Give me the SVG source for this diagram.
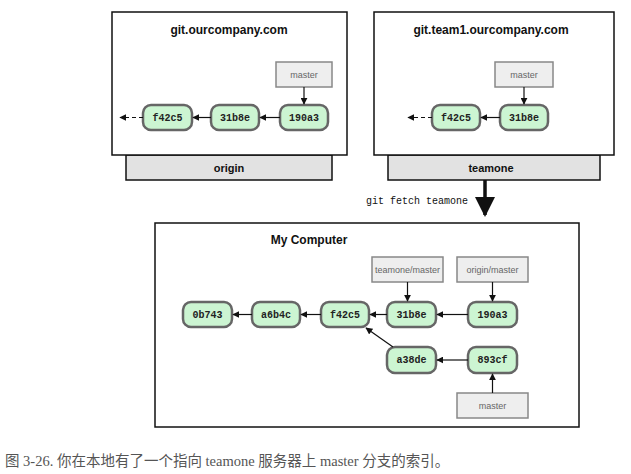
<svg xmlns="http://www.w3.org/2000/svg" width="631" height="474" viewBox="0 0 631 474">
<style>
.srv{fill:#fff;stroke:#111;stroke-width:1.5}
.tab{fill:#e2e2e2;stroke:#111;stroke-width:1.5}
.title{font-family:"Liberation Sans",Arial,sans-serif;font-weight:bold;font-size:12px;fill:#111;text-anchor:middle}
.commit rect{fill:#ccf5d2;stroke:#666;stroke-width:2.5}
.commit text{font-family:"Liberation Mono","DejaVu Sans Mono",monospace;font-weight:bold;font-size:10px;fill:#222;text-anchor:middle}
.ref rect{fill:#eeeeee;stroke:#888;stroke-width:1.5}
.ref text{font-family:"Liberation Sans",Arial,sans-serif;font-size:9px;fill:#666;text-anchor:middle}
.edge{stroke:#111;stroke-width:1.2;fill:none;marker-end:url(#ah)}
.dash{stroke:#111;stroke-width:1.2;fill:none;stroke-dasharray:4 3;marker-end:url(#ah)}
</style>
<defs>
<marker id="ah" viewBox="0 0 10 10" refX="9" refY="5" markerWidth="7" markerHeight="7" markerUnits="userSpaceOnUse" orient="auto"><path d="M0,0 L10,5 L0,10 z" fill="#111"/></marker>
<marker id="big" viewBox="0 0 10 10" refX="9" refY="5" markerWidth="20" markerHeight="20" markerUnits="userSpaceOnUse" orient="auto"><path d="M0,0 L10,5 L0,10 z" fill="#111"/></marker>
</defs>

<g id="origin-server">
<rect class="tab" x="126" y="155" width="206" height="25"/>
<rect class="srv" x="112" y="12" width="235" height="143"/>
<text class="title" x="229" y="34">git.ourcompany.com</text>
<text class="title" x="229" y="172" style="font-size:11px">origin</text>
</g>
<g id="teamone-server">
<rect class="tab" x="388" y="155" width="212" height="25"/>
<rect class="srv" x="374" y="12" width="240" height="143"/>
<text class="title" x="491" y="34">git.team1.ourcompany.com</text>
<text class="title" x="491" y="172" style="font-size:11px">teamone</text>
</g>
<g id="my-computer">
<rect class="srv" x="155" y="223" width="424" height="204"/>
<text class="title" x="309" y="244">My Computer</text>
</g>

<g id="o-master" class="ref"><rect x="276" y="62" width="56" height="25"/><text x="304" y="78">master</text></g>
<g id="o-190a3" class="commit"><rect x="280" y="105" width="48" height="25" rx="8"/><text x="304" y="121">190a3</text></g>
<g id="o-31b8e" class="commit"><rect x="211" y="105" width="48" height="25" rx="8"/><text x="235" y="121">31b8e</text></g>
<g id="o-f42c5" class="commit"><rect x="143" y="105" width="49" height="25" rx="8"/><text x="167.5" y="121">f42c5</text></g>

<g id="t-master" class="ref"><rect x="495" y="62" width="58" height="25"/><text x="524" y="78">master</text></g>
<g id="t-31b8e" class="commit"><rect x="500" y="105" width="48" height="25" rx="8"/><text x="524" y="121">31b8e</text></g>
<g id="t-f42c5" class="commit"><rect x="432" y="105" width="48" height="25" rx="8"/><text x="456" y="121">f42c5</text></g>

<g id="m-teamone-master" class="ref"><rect x="372" y="257" width="71" height="25"/><text x="407.5" y="273">teamone/master</text></g>
<g id="m-origin-master" class="ref"><rect x="457" y="257" width="71" height="25"/><text x="492.5" y="273">origin/master</text></g>
<g id="m-0b743" class="commit"><rect x="183" y="302" width="49" height="25" rx="8"/><text x="207.5" y="318">0b743</text></g>
<g id="m-a6b4c" class="commit"><rect x="252" y="302" width="48" height="25" rx="8"/><text x="276" y="318">a6b4c</text></g>
<g id="m-f42c5" class="commit"><rect x="321" y="302" width="48" height="25" rx="8"/><text x="345" y="318">f42c5</text></g>
<g id="m-31b8e" class="commit"><rect x="387" y="302" width="49" height="25" rx="8"/><text x="411.5" y="318">31b8e</text></g>
<g id="m-190a3" class="commit"><rect x="468" y="302" width="49" height="25" rx="8"/><text x="492.5" y="318">190a3</text></g>
<g id="m-a38de" class="commit"><rect x="387" y="347" width="49" height="26" rx="8"/><text x="411.5" y="363">a38de</text></g>
<g id="m-893cf" class="commit"><rect x="468" y="347" width="49" height="26" rx="8"/><text x="492.5" y="363">893cf</text></g>
<g id="m-master" class="ref"><rect x="457" y="393" width="71" height="25"/><text x="492.5" y="409">master</text></g>

<g id="fetch-label"><text x="366" y="204" style="font-family:'Liberation Mono','DejaVu Sans Mono',monospace;font-size:10px;fill:#111">git fetch teamone</text></g>

<g id="connectors">
<path class="edge" d="M304,87 V104"/>
<path class="edge" d="M280,117.5 H260"/>
<path class="edge" d="M211,117.5 H193"/>
<path class="dash" d="M143,117.5 H120"/>
<path class="edge" d="M524,87 V104"/>
<path class="edge" d="M500,117.5 H481"/>
<path class="dash" d="M432,117.5 H408"/>
<path d="M485,180 V215" stroke="#111" stroke-width="3.5" fill="none" marker-end="url(#big)"/>
<path class="edge" d="M407.5,282 V301"/>
<path class="edge" d="M492.5,282 V301"/>
<path class="edge" d="M468,314.5 H437"/>
<path class="edge" d="M387,314.5 H370"/>
<path class="edge" d="M321,314.5 H301"/>
<path class="edge" d="M252,314.5 H233"/>
<path class="edge" d="M468,360 H437"/>
<path class="edge" d="M393,347 L366,328"/>
<path class="edge" d="M492.5,393 V374"/>
</g>

<text x="5" y="466" style="font-family:'Liberation Serif','Noto Sans CJK SC',serif;font-size:14.5px;fill:#555">图 3-26. 你在本地有了一个指向 teamone 服务器上 master 分支的索引。</text>
</svg>
